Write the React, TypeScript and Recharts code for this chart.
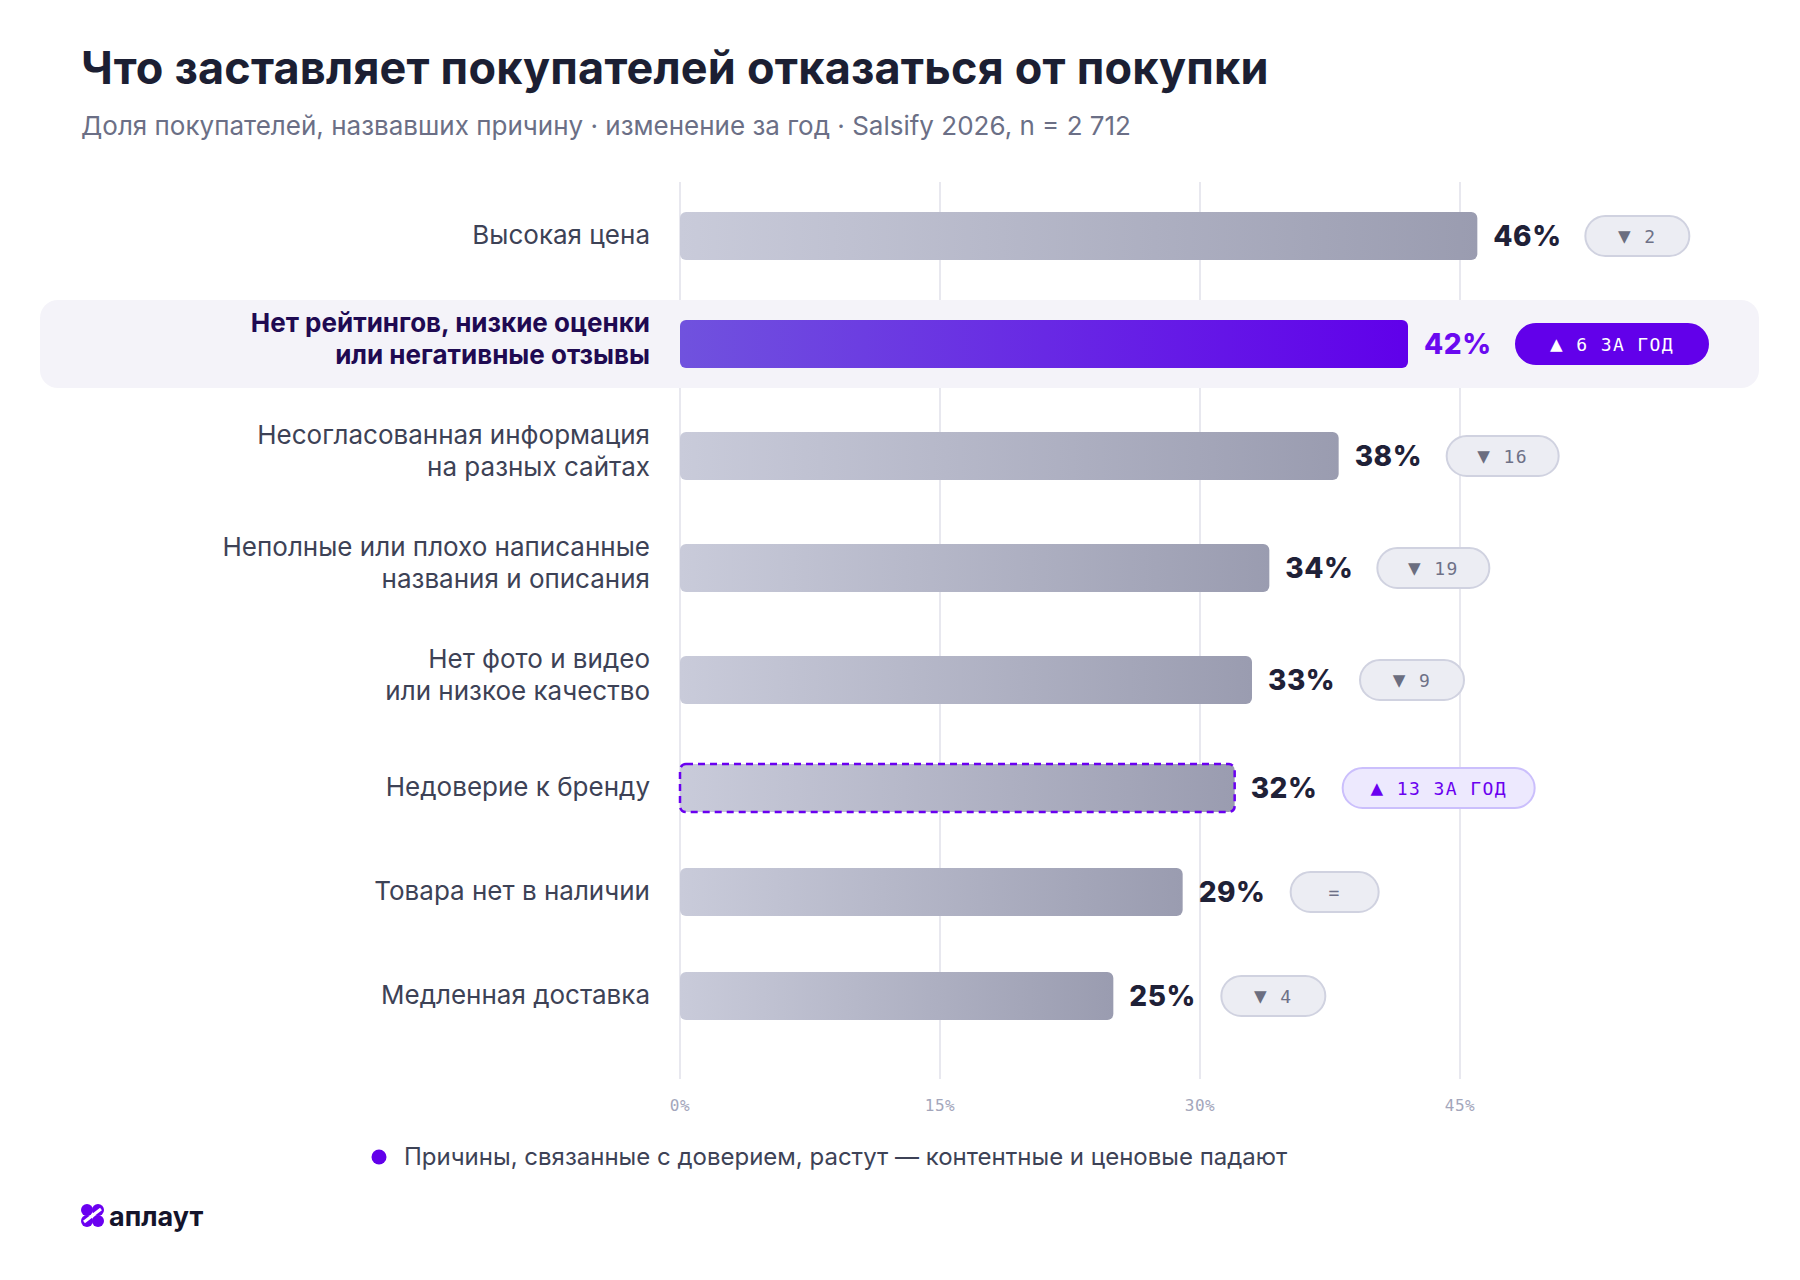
import React from 'react';
import { BarChart, Bar, XAxis, YAxis, CartesianGrid, LabelList } from 'recharts';

const reasons = [
  'Высокая цена',
  'Нет рейтингов, низкие оценки\nили негативные отзывы',
  'Несогласованная информация\nна разных сайтах',
  'Неполные или плохо написанные\nназвания и описания',
  'Нет фото и видео\nили низкое качество',
  'Недоверие к бренду',
  'Товара нет в наличии',
  'Медленная доставка',
];
const shares = [46, 42, 38, 34, 33, 32, 29, 25];
const yearChange = [-2, 6, -16, -19, -9, 13, 0, -4];
const focusReason = reasons[1];
const xTicks = [0, 15, 30, 45];

// rows with two-line labels get a little more room
const lineCount = reasons.map((r) => r.split('\n').length);
const slots: number[] = [];
lineCount.forEach((n, i) => {
  const half = (k: number) => 52 + 4 * (k - 1);
  slots.push(i === 0 ? half(n) + 2 : slots[i - 1] + half(lineCount[i - 1]) + half(n));
});
const yMax = slots[slots.length - 1] + 83;

const data = reasons.map((name, i) => ({ name, value: shares[i], change: yearChange[i], slot: slots[i] }));

const INK = '#1f2137';
const PURPLE = '#6200ea';
const MONO = '"DejaVu Sans Mono", "Liberation Mono", monospace';

function badgeText(change: number) {
  if (change === 0) return '=';
  if (change < 0) return `▼ ${Math.abs(change)}`;
  return `▲ ${change} ЗА ГОД`;
}

// grid only on the tick values, not on the plot edge
function gridX({ xAxis }: any) {
  const s = xAxis && xAxis.scale;
  if (typeof s === 'function') return xTicks.map((t) => s(t));
  if (s && typeof s.map === 'function') return xTicks.map((t) => s.map(t));
  return [];
}

function RowBar(props: any) {
  const { x, y, width, height, payload } = props;
  const focus = payload.name === focusReason;
  const outlined = !focus && payload.change > 0;
  const cy = y + height / 2;
  return (
    <g>
      {focus && (
        <rect x={40} y={cy - 44} width={1719} height={88} rx={18} fill="#f4f3f9" />
      )}
      <rect
        x={x}
        y={y}
        width={width}
        height={height}
        rx={6}
        fill={focus ? 'url(#gPurple)' : 'url(#gGray)'}
      />
      {outlined && (
        <rect
          x={x}
          y={y}
          width={width}
          height={height}
          rx={6}
          fill="none"
          stroke="#6a00f0"
          strokeWidth={2.5}
          strokeDasharray="7 5"
        />
      )}
    </g>
  );
}

function RowLabel(props: any) {
  const { x, y, width, height, index } = props;
  const row = data[index];
  const focus = row.name === focusReason;
  const cy = y + height / 2;
  const end = x + width;
  const txt = badgeText(row.change);
  const bw = row.change > 0 ? 192 : 80 + txt.length * 8;
  const bx = end + 108;
  let fill = '#ecedf3', stroke = '#d0d2e0', color = '#6e7187';
  if (focus) { fill = PURPLE; stroke = PURPLE; color = '#ffffff'; }
  else if (row.change > 0) { fill = '#ede9fe'; stroke = '#cbbffc'; color = '#6a00f0'; }
  const [mark, ...rest] = txt.split(' ');
  return (
    <g>
      <text
        x={end + 16}
        y={cy + 10}
        fontFamily="Inter"
        fontWeight={800}
        fontSize={28}
        letterSpacing={0.5}
        fill={focus ? '#6a0af0' : INK}
      >
        {row.value}%
      </text>
      <rect x={bx} y={cy - 20} width={bw} height={40} rx={20} fill={fill} stroke={stroke} strokeWidth={2} />
      <text
        x={bx + bw / 2}
        y={cy + 7}
        textAnchor="middle"
        fontFamily={MONO}
        fontSize={18}
        letterSpacing={1.4}
        fill={color}
      >
        {rest.length ? (
          <>
            <tspan fontSize={21} fill={focus || row.change > 0 ? color : '#6b6e80'}>{mark}</tspan>
            <tspan>{' ' + rest.join(' ')}</tspan>
          </>
        ) : (
          mark
        )}
      </text>
    </g>
  );
}

function ReasonTick(props: any) {
  const { y, payload } = props;
  const row = data[slots.indexOf(payload.value)];
  if (!row) return null;
  const lines = row.name.split('\n');
  const focus = row.name === focusReason;
  const lift = lines.length > 1 ? 4 : 0;
  return (
    <text
      textAnchor="end"
      fontFamily="Inter"
      fontSize={26}
      fontWeight={focus ? 700 : 400}
      fill={focus ? '#1f0a52' : '#3d4256'}
    >
      {lines.map((l, i) => (
        <tspan key={i} x={650} y={y + (i - (lines.length - 1) / 2) * 32 + 8 - lift}>
          {l}
        </tspan>
      ))}
    </text>
  );
}

function PctTick(props: any) {
  const { x, y, payload } = props;
  return (
    <text x={x} y={y + 32} textAnchor="middle" fontFamily={MONO} fontSize={16} letterSpacing={0.5} fill="#a3a6bb">
      {payload.value}%
    </text>
  );
}

export default function App() {
  return (
    <div style={{ position: 'relative', width: 1800, height: 1280, background: '#ffffff' }}>
      <style>{'body{margin:0}'}</style>
      <BarChart
        width={1800}
        height={1280}
        data={data}
        layout="vertical"
        margin={{ top: 182, right: 80, bottom: 161, left: 0 }}
      >
        <defs>
          <linearGradient id="gGray" x1="0" y1="0" x2="1" y2="0">
            <stop offset="0%" stopColor="#c9cbda" />
            <stop offset="100%" stopColor="#9a9cb0" />
          </linearGradient>
          <linearGradient id="gPurple" x1="0" y1="0" x2="1" y2="0">
            <stop offset="0%" stopColor="#7052de" />
            <stop offset="100%" stopColor="#6000ea" />
          </linearGradient>
        </defs>
        <CartesianGrid
          horizontal={false}
          stroke="#e8e8ef"
          strokeWidth={2}
          verticalCoordinatesGenerator={gridX}
        />
        <Bar dataKey="value" barSize={48} isAnimationActive={false} shape={RowBar}>
          <LabelList dataKey="value" content={RowLabel} />
        </Bar>
        <XAxis
          type="number"
          domain={[0, 60]}
          ticks={xTicks}
          axisLine={false}
          tickLine={false}
          tickSize={0}
          tickMargin={0}
          height={40}
          tick={PctTick}
        />
        <YAxis
          type="number"
          dataKey="slot"
          domain={[0, yMax]}
          ticks={slots}
          width={680}
          axisLine={false}
          tickLine={false}
          tick={ReasonTick}
          interval={0}
        />
      </BarChart>
      <svg width={1800} height={1280} style={{ position: 'absolute', left: 0, top: 0, pointerEvents: 'none' }}>
        <text x={81} y={84} fontFamily="Inter" fontWeight={700} fontSize={45} letterSpacing={0.2} fill="#1c1f33">
          Что заставляет покупателей отказаться от покупки
        </text>
        <text x={81} y={135} fontFamily="Inter" fontSize={26} fill="#6b6f86">
          Доля покупателей, назвавших причину · изменение за год · Salsify 2026, n = 2 712
        </text>
        <circle cx={379} cy={1157} r={7.5} fill={PURPLE} />
        <text x={404} y={1165} fontFamily="Inter" fontSize={24} fill="#3d4256">
          Причины, связанные с доверием, растут — контентные и ценовые падают
        </text>
        <g fill="#6a00f0">
          <circle cx={87} cy={1210} r={6} />
          <circle cx={98} cy={1210} r={6} />
          <circle cx={87} cy={1221} r={6} />
          <circle cx={98} cy={1221} r={6} />
          <path d="M84 1222 L101 1209" stroke="#ffffff" strokeWidth={3} />
        </g>
        <text x={109} y={1226} fontFamily="Inter" fontWeight={700} fontSize={27} fill="#14142b">
          аплаут
        </text>
      </svg>
    </div>
  );
}
